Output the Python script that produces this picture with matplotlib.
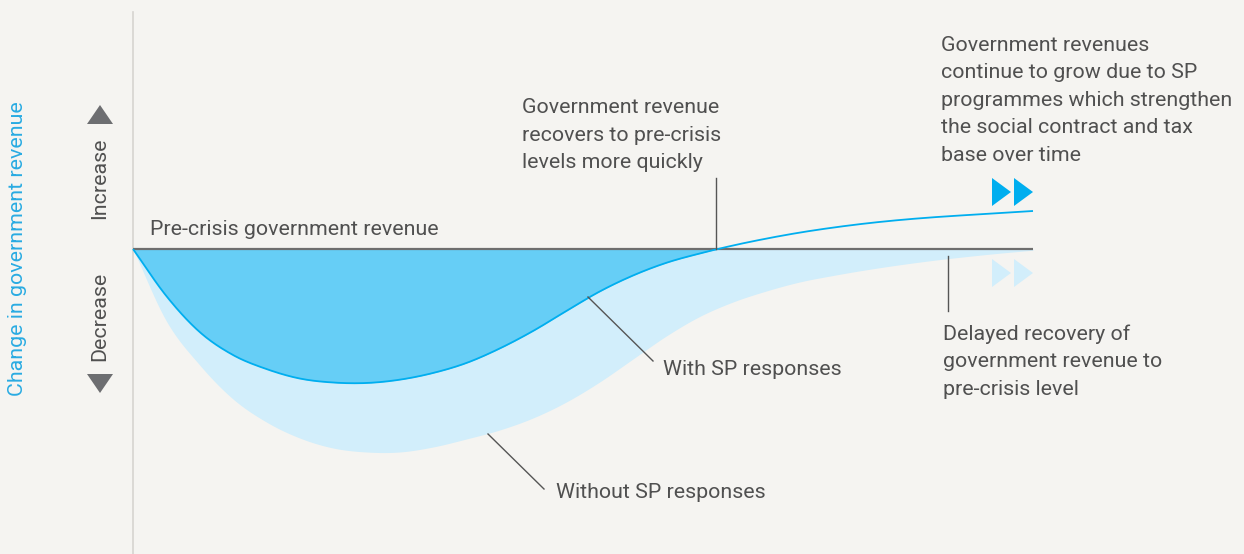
import numpy as np
import matplotlib
matplotlib.use("Agg")
import matplotlib.pyplot as plt
from matplotlib.patches import Polygon

# ---- data (time steps, change in revenue) ----
time = np.arange(28)
with_sp = [0, -4.7, -8.3, -10.6, -12.0, -12.95, -13.35, -13.4, -13.07, -12.4, -11.4,
           -9.95, -8.2, -6.2, -4.25, -2.65, -1.38, -0.45, 0.35, 1.04, 1.64, 2.14, 2.56,
           2.9, 3.17, 3.39, 3.6, 3.8]
without_sp = [0, -7.2, -11.6, -15.0, -17.3, -18.9, -19.9, -20.3, -20.3, -19.8, -19.0,
              -18.1, -16.9, -15.3, -13.3, -11.0, -8.7, -6.75, -5.3, -4.2, -3.3, -2.65,
              -2.08, -1.58, -1.14, -0.76, -0.42, -0.12]
baseline_label = "Pre-crisis government revenue"
axis_label = "Change in government revenue"
up_label = "Increase"
down_label = "Decrease"
note_recover = ["Government revenue", "recovers to pre-crisis", "levels more quickly"]
note_grow = ["Government revenues", "continue to grow due to SP",
             "programmes which strengthen", "the social contract and tax",
             "base over time"]
note_delay = ["Delayed recovery of", "government revenue to", "pre-crisis level"]
label_with = "With SP responses"
label_without = "Without SP responses"

# ---- colours ----
BG = "#F5F4F1"
CYAN = "#00AEEF"
DARK_FILL = "#66CEF6"
LIGHT_FILL = "#D2EEFB"
GREY_LINE = "#6E6E6E"
TEXT = "#505050"
TRI = "#6D6E71"

plt.rcParams['font.family'] = ['Roboto', 'DejaVu Sans']
FS = 15.4
FW = 'normal'


def catmull(t, y, n=20):
    t = np.asarray(t, float)
    y = np.asarray(y, float)
    yp = np.concatenate([[2 * y[0] - y[1]], y, [2 * y[-1] - y[-2]]])
    ts, ys = [], []
    for i in range(len(y) - 1):
        p0, p1, p2, p3 = yp[i], yp[i + 1], yp[i + 2], yp[i + 3]
        s = np.linspace(0, 1, n, endpoint=False)
        v = 0.5 * ((2 * p1) + (-p0 + p2) * s + (2 * p0 - 5 * p1 + 4 * p2 - p3) * s ** 2
                   + (-p0 + 3 * p1 - 3 * p2 + p3) * s ** 3)
        ts.append(t[i] + s * (t[i + 1] - t[i]))
        ys.append(v)
    ts.append([t[-1]])
    ys.append([y[-1]])
    return np.concatenate(ts), np.concatenate(ys)


W, H = 1244, 554
fig = plt.figure(figsize=(W / 100, H / 100), dpi=100)
fig.patch.set_facecolor(BG)
ax = fig.add_axes([0, 0, 1, 1])
ax.set_facecolor(BG)
ax.axis('off')

# pixel mapping: t=0 -> x 133, t=27 -> x 1033 ; y=0 -> py 249, 10 px/unit
PX_T = 900 / 27.0
ax.set_xlim(-133 / PX_T, (W - 133) / PX_T)
ax.set_ylim((249 - H) / 10.0, 249 / 10.0)


def px(x):
    return (x - 133) / PX_T


def py(y):
    return (249 - y) / 10.0


ts, ws = catmull(time, with_sp)
_, wo = catmull(time, without_sp)

# fills
ax.fill_between(ts, wo, 0, color=LIGHT_FILL, lw=0, zorder=1)
ax.fill_between(ts, np.minimum(ws, 0), 0, color=DARK_FILL, lw=0, zorder=2)
ax.plot(ts, ws, color=CYAN, lw=1.3, zorder=4, solid_capstyle='butt')
ax.plot([time[0], time[-1]], [0, 0], color=GREY_LINE, lw=1.6, zorder=3,
        solid_capstyle='butt')

# vertical axis line
ax.plot([px(133), px(133)], [py(12), py(554)], color="#D6D4D0", lw=1.2, zorder=0)

# pointers
ptr = dict(color="#555555", lw=1.0, zorder=5)
ax.plot([px(588), px(653)], [py(297), py(361)], **ptr)
ax.plot([px(488), px(544)], [py(434), py(489)], **ptr)
ax.plot([px(716), px(716)], [py(178), py(249)], **ptr)
ax.plot([px(948), px(948)], [py(256), py(311)], **ptr)

# triangles (up / down arrows)
for verts in ([(87, 124), (113, 124), (100, 105)], [(87, 374), (113, 374), (100, 393)]):
    ax.add_patch(Polygon([(px(a), py(b)) for a, b in verts], closed=True,
                         color=TRI, lw=0, zorder=5))
# fast-forward markers
for yc, col in ((192, CYAN), (273, LIGHT_FILL)):
    for x0 in (992, 1014):
        ax.add_patch(Polygon([(px(x0), py(yc - 14)), (px(x0), py(yc + 14)),
                              (px(x0 + 19), py(yc))], closed=True, color=col,
                             lw=0, zorder=5))

# texts
tk = dict(fontsize=FS, fontweight=FW, color=TEXT, va='baseline', ha='left', zorder=6)
ax.text(px(150), py(235), baseline_label, **tk)
ax.text(px(663), py(375), label_with, **tk)
ax.text(px(556), py(498), label_without, **tk)
LS = 27.4
for i, s in enumerate(note_recover):
    ax.text(px(522), py(113.2 + i * LS), s, **tk)
for i, s in enumerate(note_grow):
    ax.text(px(941), py(51 + i * LS), s, **tk)
for i, s in enumerate(note_delay):
    ax.text(px(943), py(340 + i * LS), s, **tk)

rk = dict(fontsize=FS, fontweight=FW, color=TEXT, rotation=90, ha='center', va='center',
          zorder=6)
ax.text(px(100), py(178), up_label, **rk)
ax.text(px(100), py(316), down_label, **rk)
ax.text(px(18), py(249), axis_label, fontsize=FS, fontweight=FW, color="#29ABE2",
        rotation=90, ha='center', va='center')

fig.savefig("out.png", dpi=100, facecolor=BG)
